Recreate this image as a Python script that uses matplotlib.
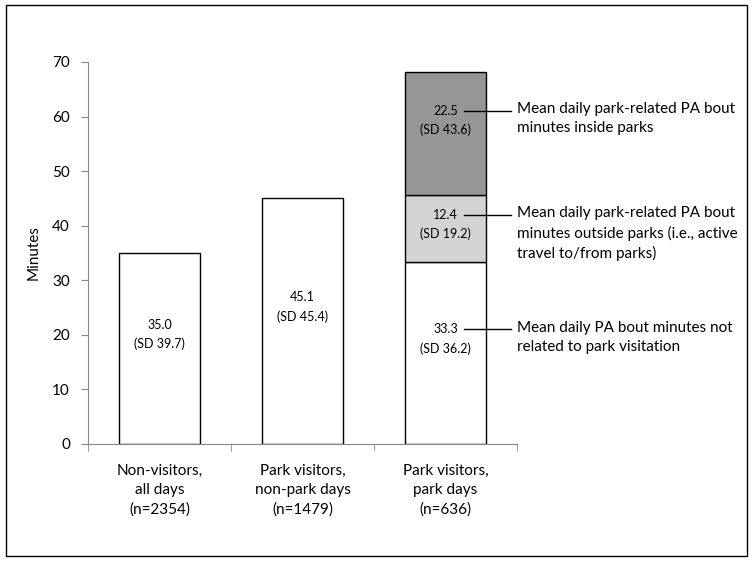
import matplotlib.pyplot as plt
from matplotlib.patches import Rectangle

plt.rcParams['font.family'] = ['Lato', 'DejaVu Sans']

categories = ['Non-visitors,\nall days\n(n=2354)',
              'Park visitors,\nnon-park days\n(n=1479)',
              'Park visitors,\npark days\n(n=636)']
# park days bar is stacked: not related / outside parks / inside parks
base_vals = [35.0, 45.1, 33.3]
base_sd = [39.7, 45.4, 36.2]
outside_val, outside_sd = 12.4, 19.2
inside_val, inside_sd = 22.5, 43.6
notes = ['Mean daily PA bout minutes not\nrelated to park visitation',
         'Mean daily park-related PA bout\nminutes outside parks (i.e., active\ntravel to/from parks)',
         'Mean daily park-related PA bout\nminutes inside parks']
yticks = [0, 10, 20, 30, 40, 50, 60, 70]

if __name__ == '__main__':
    fig = plt.figure(figsize=(7.54, 5.61), dpi=100)
    ax = fig.add_axes([0.1167, 0.2086, 0.569, 0.681])
    fig.patches.append(Rectangle((0.008, 0.009), 0.983, 0.982, transform=fig.transFigure,
                                 fill=False, edgecolor='black', linewidth=1))

    x = range(len(categories))
    w = 0.573
    ax.bar(x, base_vals, width=w, color='white', edgecolor='black', linewidth=1)
    ax.bar(2, outside_val, bottom=base_vals[2], width=w, color='#d3d3d3', edgecolor='black', linewidth=1)
    ax.bar(2, inside_val, bottom=base_vals[2] + outside_val, width=w, color='#969696',
           edgecolor='black', linewidth=1)

    segs = [(0, 0, base_vals[0], base_sd[0]),
            (1, 0, base_vals[1], base_sd[1]),
            (2, 0, base_vals[2], base_sd[2]),
            (2, base_vals[2], outside_val, outside_sd),
            (2, base_vals[2] + outside_val, inside_val, inside_sd)]
    lift = [2.6, 2.6, 2.6, 0.7, 2.4]  # labels sit a bit above segment middle
    for i, (xi, bot, v, sd) in enumerate(segs):
        yc = bot + v / 2 + lift[i]
        ax.text(xi, yc + 1.75, f'{v:.1f}', ha='center', va='center', fontsize=9)
        ax.text(xi, yc - 1.75, f'(SD {sd:.1f})', ha='center', va='center', fontsize=9)
        if xi == 2:
            ax.plot([2.13, 2.46], [yc + 1.75] * 2, color='black', linewidth=1, clip_on=False)
            ax.text(2.5, yc + 1.75 + 1.6, notes[i - 2], ha='left', va='top', fontsize=11,
                    linespacing=1.45)

    ax.set_xlim(-0.5, 2.5)
    ax.set_ylim(0, 70)
    ax.set_yticks(yticks)
    ax.set_xticks(list(x))
    ax.set_xticklabels(categories, fontsize=11, linespacing=1.5)
    ax.set_xticks([-0.5, 0.5, 1.5, 2.5], minor=True)
    ax.tick_params(axis='x', which='major', length=0, pad=14)
    ax.tick_params(axis='x', which='minor', length=5, color='#888888', direction='out')
    ax.tick_params(axis='y', length=5, color='#888888', labelsize=11, pad=8)
    ax.set_ylabel('Minutes', fontsize=11)
    ax.yaxis.set_label_coords(-0.11, 0.5)
    for s in ['top', 'right']:
        ax.spines[s].set_visible(False)
    for s in ['left', 'bottom']:
        ax.spines[s].set_color('#888888')

    plt.savefig('out.png', dpi=100)
